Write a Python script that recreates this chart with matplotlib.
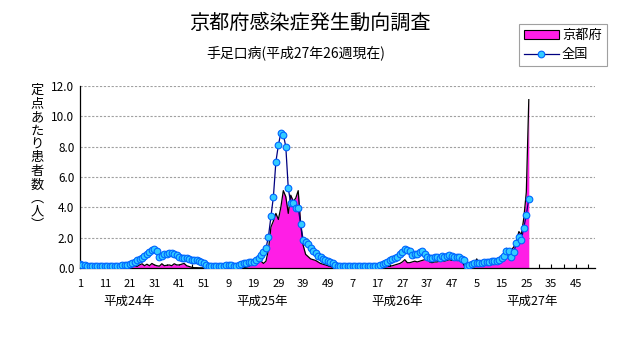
import numpy as np
import matplotlib
matplotlib.use('Agg')
import matplotlib.pyplot as plt
from matplotlib.patches import Patch
from matplotlib.lines import Line2D

plt.rcParams['font.family'] = ['Noto Sans CJK JP', 'DejaVu Sans']

# 定点あたり患者数 (週別), 全国
zenkoku_h24 = [0.25, 0.22, 0.2, 0.16, 0.14, 0.13, 0.13, 0.12, 0.12, 0.12,
               0.11, 0.1, 0.1, 0.11, 0.12, 0.13, 0.15, 0.17, 0.2, 0.22,
               0.25, 0.32, 0.42, 0.5, 0.6, 0.68, 0.78, 0.9, 1.05, 1.2,
               1.25, 1.1, 0.72, 0.82, 0.9, 0.95, 1.0, 1.0, 0.95, 0.85,
               0.7, 0.68, 0.66, 0.63, 0.6, 0.55, 0.53, 0.5, 0.45, 0.42,
               0.3, 0.2]
zenkoku_h25 = [0.13, 0.13, 0.13, 0.13, 0.13, 0.14, 0.15, 0.17, 0.2, 0.2,
               0.15, 0.15, 0.2, 0.25, 0.3, 0.35, 0.4, 0.42, 0.42, 0.5,
               0.63, 0.85, 1.05, 1.3, 2.07, 3.4, 4.7, 7.0, 8.1, 8.9,
               8.8, 8.0, 5.25, 4.26, 4.26, 3.93, 3.95, 2.9, 1.85, 1.7,
               1.6, 1.3, 1.15, 1.0, 0.8, 0.7, 0.62, 0.55, 0.48, 0.4,
               0.3, 0.2]
zenkoku_h26 = [0.14, 0.13, 0.12, 0.12, 0.12, 0.12, 0.12, 0.12, 0.12, 0.12,
               0.12, 0.12, 0.13, 0.13, 0.14, 0.15, 0.16, 0.2, 0.25, 0.3,
               0.4, 0.5, 0.58, 0.65, 0.75, 0.9, 1.05, 1.23, 1.18, 1.1,
               0.86, 0.9, 0.95, 1.05, 1.12, 0.95, 0.7, 0.63, 0.66, 0.7,
               0.72, 0.68, 0.78, 0.72, 0.8, 0.86, 0.8, 0.75, 0.75, 0.7,
               0.6, 0.53]
zenkoku_h27 = [0.13, 0.2, 0.25, 0.3, 0.35, 0.33, 0.3, 0.38, 0.42, 0.42,
               0.45, 0.46, 0.48, 0.5, 0.65, 0.79, 1.12, 1.13, 0.75, 1.08,
               1.63, 2.02, 1.85, 2.66, 3.5, 4.57]

# 京都府
kyoto_h24 = [0.02, 0.02, 0.01, 0.02, 0.02, 0.01, 0.02, 0.02, 0.01, 0.02,
             0.02, 0.01, 0.02, 0.02, 0.03, 0.02, 0.03, 0.02, 0.03, 0.04,
             0.05, 0.1, 0.15, 0.1, 0.2, 0.28, 0.15, 0.25, 0.15, 0.3,
             0.2, 0.15, 0.12, 0.28, 0.15, 0.18, 0.2, 0.15, 0.28, 0.2,
             0.2, 0.25, 0.3, 0.15, 0.1, 0.05, 0.02, 0.02, 0.01, 0.01,
             0.0, 0.0]
kyoto_h25 = [0.0, 0.0, 0.0, 0.0, 0.0, 0.0, 0.0, 0.0, 0.0, 0.01,
             0.0, 0.0, 0.01, 0.01, 0.02, 0.05, 0.1, 0.2, 0.3, 0.35,
             0.5, 0.45, 0.3, 0.45, 1.2, 2.7, 3.1, 3.6, 3.2, 4.0,
             5.1, 4.7, 3.6, 4.8, 4.4, 4.6, 5.1, 2.9, 1.5, 0.9,
             0.75, 0.6, 0.55, 0.5, 0.4, 0.3, 0.25, 0.2, 0.15, 0.1,
             0.05, 0.0]
kyoto_h26 = [0.0, 0.0, 0.0, 0.0, 0.0, 0.0, 0.0, 0.0, 0.0, 0.0,
             0.0, 0.0, 0.0, 0.0, 0.0, 0.0, 0.0, 0.02, 0.05, 0.08,
             0.1, 0.12, 0.15, 0.2, 0.25, 0.3, 0.4, 0.55, 0.35, 0.35,
             0.4, 0.45, 0.4, 0.45, 0.5, 0.55, 0.75, 0.4, 0.35, 0.4,
             0.4, 0.45, 0.5, 0.45, 0.5, 0.55, 0.5, 0.55, 0.5, 0.5,
             0.45, 0.15]
kyoto_h27 = [0.05, 0.15, 0.25, 0.3, 0.6, 0.3, 0.3, 0.35, 0.4, 0.45,
             0.5, 0.5, 0.55, 0.6, 0.7, 1.0, 1.3, 0.9, 1.2, 1.4,
             1.8, 2.4, 2.2, 3.3, 5.0, 11.1]

xtick_labels = ['1', '11', '21', '31', '41', '51', '9', '19', '29', '39', '49',
                '7', '17', '27', '37', '47', '5', '15', '25', '35', '45']
year_labels = ['平成24年', '平成25年', '平成26年', '平成27年']
year_pos = [19.8, 73.6, 128.0, 182.5]

zenkoku = np.array(zenkoku_h24 + zenkoku_h25 + zenkoku_h26 + zenkoku_h27)
kyoto = np.array(kyoto_h24 + kyoto_h25 + kyoto_h26 + kyoto_h27)
x = np.arange(len(kyoto))

magenta = '#ff1ee6'
marker_style = dict(marker='o', markersize=4.8, markerfacecolor='#33ccff',
                    markeredgecolor='#0066ff', markeredgewidth=0.8)

fig = plt.figure(figsize=(6.31, 3.47), dpi=100)
ax = fig.add_axes([80 / 631, 1 - 268 / 347, 515 / 631, 182 / 347])

ax.fill_between(x, kyoto, 0, color=magenta, lw=0, zorder=2)
ax.plot(x, kyoto, color='black', lw=0.9, zorder=3)
ax.plot(x, zenkoku, color='#000080', lw=0.9, zorder=4, **marker_style)

ax.set_xlim(0, 207.7)
ax.set_ylim(0, 12)
yticks = np.arange(0, 12.1, 2)
ax.set_yticks(yticks)
ax.set_yticklabels(['%.1f' % v for v in yticks], fontsize=8.5)
ax.yaxis.grid(True, color='#a0a0a0', linestyle=(0, (2, 1.5)), lw=0.8)
ax.set_axisbelow(True)

# 目盛りは5週ごと、ラベルは10週ごと
ax.set_xticks(np.arange(0, 208, 5))
ax.set_xticklabels([s for t in xtick_labels for s in (t, '')][:42], fontsize=8)
ax.tick_params(axis='x', direction='in', length=3, width=0.8, pad=8)
ax.tick_params(axis='y', length=0, pad=4)

for s in ['top', 'right']:
    ax.spines[s].set_visible(False)
for s in ['left', 'bottom']:
    ax.spines[s].set_color('black')
    ax.spines[s].set_linewidth(0.9)

for pos, lab in zip(year_pos, year_labels):
    ax.text(pos, -0.185, lab, transform=ax.get_xaxis_transform(),
            ha='center', va='center', fontsize=9)

fig.text(310 / 631, 1 - 23 / 347, '京都府感染症発生動向調査',
         ha='center', va='center', fontsize=14.5)
fig.text(296 / 631, 1 - 53 / 347, '手足口病(平成27年26週現在)',
         ha='center', va='center', fontsize=10)

# 縦書きの軸ラベル
fig.text(37 / 631, 1 - 158 / 347, '\n'.join('定点あたり患者数︵人︶'),
         ha='center', va='center', fontsize=9.5, linespacing=1.05)

handles = [Patch(facecolor=magenta, edgecolor='black', lw=0.8),
           Line2D([], [], color='#000080', lw=0.9, **marker_style)]
leg = fig.legend(handles, ['京都府', '全国'], loc='upper left',
                 bbox_to_anchor=(519 / 631, 1 - 24 / 347), fontsize=9.5,
                 fancybox=False, edgecolor='#a0a0a0', framealpha=1,
                 handlelength=2.6, handleheight=0.6, handletextpad=0.25,
                 borderpad=0.4, labelspacing=0.45, borderaxespad=0)
leg.get_frame().set_linewidth(0.8)

fig.savefig('out.png', dpi=100)
